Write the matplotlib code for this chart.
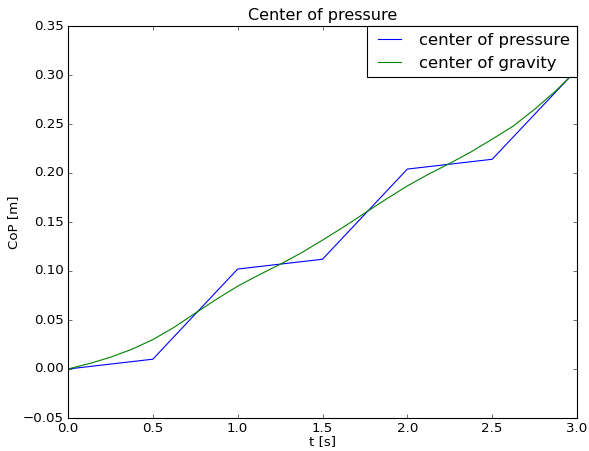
import matplotlib
matplotlib.use("Agg")
import matplotlib.pyplot as plt

# center of pressure (piecewise linear steps)
t_cop = [0.0, 0.5, 1.0, 1.5, 2.0, 2.5, 2.95]
cop = [0.0, 0.010, 0.102, 0.112, 0.204, 0.214, 0.2965]

# center of gravity
t_cog = [0.0, 0.125, 0.25, 0.375, 0.5, 0.625, 0.75, 0.875, 1.0,
         1.125, 1.25, 1.375, 1.5, 1.625, 1.75, 1.875, 2.0,
         2.125, 2.25, 2.375, 2.5, 2.625, 2.75, 2.875, 2.95]
cog = [0.0, 0.0055, 0.0120, 0.0200, 0.0300, 0.0425, 0.0570, 0.0712, 0.0845,
       0.0960, 0.1068, 0.1185, 0.1315, 0.1450, 0.1592, 0.1733, 0.1868,
       0.1988, 0.2098, 0.2215, 0.2345, 0.2480, 0.2650, 0.2838, 0.2966]

plt.style.use("classic")

fig = plt.figure(figsize=(589 / 80, 451 / 80), dpi=80)
ax = fig.add_axes([68 / 589, 33 / 451, 509 / 589, 392 / 451])

ax.plot(t_cop, cop, "b", label="center of pressure")
ax.plot(t_cog, cog, "g", label="center of gravity")

ax.set_xlim(0, 3)
ax.set_ylim(-0.05, 0.35)
ax.set_xticks([0.0, 0.5, 1.0, 1.5, 2.0, 2.5, 3.0])
ax.set_yticks([-0.05, 0.0, 0.05, 0.10, 0.15, 0.20, 0.25, 0.30, 0.35])
ax.set_yticklabels(["\u22120.05", "0.00", "0.05", "0.10", "0.15",
                    "0.20", "0.25", "0.30", "0.35"])

ax.set_title("Center of pressure")
ax.set_xlabel("t [s]", labelpad=0)
ax.set_ylabel("CoP [m]", labelpad=2)
ax.legend(loc="upper right", borderaxespad=0, fontsize=14.8)

fig.savefig("out.png", dpi=80)
